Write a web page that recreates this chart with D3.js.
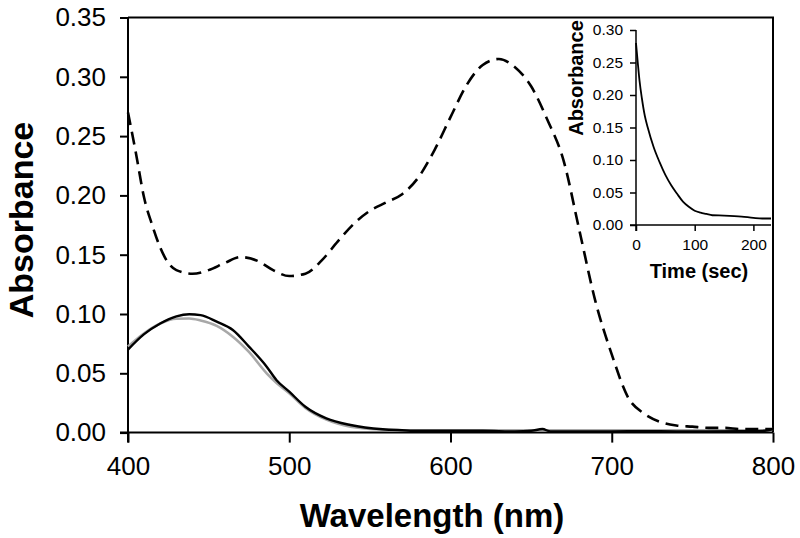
<!DOCTYPE html>
<html><head><meta charset="utf-8">
<script src="https://cdn.jsdelivr.net/npm/d3@7"></script>
<style>body{margin:0;background:#fff}svg{display:block}text{font-family:"Liberation Sans",Arial,sans-serif;fill:#000}</style>
</head><body>
<svg id="c" width="800" height="538"></svg>
<script>
// Main spectra
const wlDashed = [400,405,410,415,420,425,430,440,450,460,470,480,490,500,510,520,530,540,550,560,570,580,590,600,610,620,630,640,650,660,670,680,690,700,710,720,730,740,750,760,770,780,790,800];
const absDashed = [0.270,0.235,0.198,0.175,0.156,0.143,0.137,0.134,0.137,0.143,0.148,0.145,0.137,0.132,0.134,0.145,0.161,0.176,0.187,0.194,0.201,0.215,0.238,0.266,0.293,0.310,0.315,0.308,0.292,0.264,0.230,0.170,0.110,0.066,0.030,0.016,0.009,0.006,0.005,0.004,0.004,0.003,0.003,0.003];

const wlSolid = [400,410,420,430,438,445,455,465,475,486,492,500,510,523,538,558,570,580,600,620,640,650,657,662,680,700,720,740,760,780,795,800];
const absBlack = [0.070,0.083,0.092,0.098,0.0998,0.099,0.0935,0.0865,0.0725,0.0556,0.0444,0.0345,0.0218,0.012,0.0064,0.0028,0.002,0.0015,0.0015,0.0015,0.001,0.0015,0.003,0.001,0.001,0.001,0.0012,0.001,0.001,0.0012,0.0015,0.003];
const absGrey  = [0.0725,0.0837,0.092,0.096,0.0962,0.0945,0.090,0.0809,0.068,0.050,0.042,0.0332,0.0208,0.0109,0.005,0.0025,0.002,0.002,0.002,0.002,0.002,0.002,0.002,0.002,0.002,0.002,0.002,0.002,0.002,0.002,0.002,0.003];

const xTicks = [400,500,600,700,800];
const yTicks = [0,0.05,0.10,0.15,0.20,0.25,0.30,0.35];

// Inset kinetics
const tInset = [0,3,6,10,15,20,30,40,50,60,70,80,90,100,110,120,130,150,180,200,215,230];
const absInset = [0.280,0.250,0.222,0.195,0.168,0.150,0.120,0.097,0.077,0.061,0.048,0.036,0.028,0.022,0.019,0.017,0.015,0.0145,0.013,0.011,0.010,0.010];
const xTicksInset = [0,100,200];
const yTicksInset = [0,0.05,0.10,0.15,0.20,0.25,0.30];

const svg = d3.select("#c");
const X0=128, X1=773, Y0=432.6, Y1=17.5;
const x = d3.scaleLinear().domain([400,800]).range([X0,X1]);
const y = d3.scaleLinear().domain([0,0.35]).range([Y0,Y1]);

// frame top/right
svg.append("path").attr("d",`M${X0},${Y1}H${X1}V${Y0}`).attr("fill","none").attr("stroke","#000").attr("stroke-width",2);

const yAx = svg.append("g").attr("transform",`translate(${X0},0)`)
  .call(d3.axisLeft(y).tickValues(yTicks).tickFormat(d3.format(".2f")).tickSize(8).tickPadding(14));
const xAx = svg.append("g").attr("transform",`translate(0,${Y0})`)
  .call(d3.axisBottom(x).tickValues(xTicks).tickFormat(d3.format("d")).tickSize(10).tickPadding(14));
[yAx,xAx].forEach(g=>{
  g.select(".domain").remove();
  g.selectAll("line").attr("stroke","#000").attr("stroke-width",2);
  g.selectAll("text").attr("font-size",26).attr("font-family","Liberation Sans, Arial, sans-serif").attr("fill","#000");
});
svg.append("line").attr("x1",X0).attr("x2",X0).attr("y1",Y1).attr("y2",Y0+10).attr("stroke","#000").attr("stroke-width",2);
svg.append("line").attr("x1",X0-8).attr("x2",X1).attr("y1",Y0).attr("y2",Y0).attr("stroke","#000").attr("stroke-width",2);

const line = d3.line().curve(d3.curveMonotoneX);
const mk = (xs,ys)=>line(xs.map((v,i)=>[x(v),y(ys[i])]));

svg.append("path").attr("d",mk(wlSolid,absGrey)).attr("fill","none").attr("stroke","#a8a8a8").attr("stroke-width",2.6);
svg.append("path").attr("d",mk(wlSolid,absBlack)).attr("fill","none").attr("stroke","#000").attr("stroke-width",2.4);
svg.append("path").attr("d",mk(wlDashed,absDashed)).attr("fill","none").attr("stroke","#000").attr("stroke-width",2.6).attr("stroke-dasharray","13,7");

svg.append("text").attr("x",432).attr("y",527).attr("text-anchor","middle").attr("font-size",33).attr("font-weight","bold").text("Wavelength (nm)");
svg.append("text").attr("transform","translate(33,220) rotate(-90)").attr("text-anchor","middle").attr("font-size",34).attr("font-weight","bold").text("Absorbance");

// Inset
const ix = d3.scaleLinear().domain([0,230]).range([636,771]);
const iy = d3.scaleLinear().domain([0,0.30]).range([225,30]);
const iyAx = svg.append("g").attr("transform","translate(636,0)")
  .call(d3.axisLeft(iy).tickValues(yTicksInset).tickFormat(d3.format(".2f")).tickSize(6).tickPadding(7));
const ixAx = svg.append("g").attr("transform","translate(0,225)")
  .call(d3.axisBottom(ix).tickValues(xTicksInset).tickFormat(d3.format("d")).tickSize(6).tickPadding(8));
[iyAx,ixAx].forEach(g=>{
  g.select(".domain").remove();
  g.selectAll("line").attr("stroke","#000").attr("stroke-width",1.5);
  g.selectAll("text").attr("font-size",15.5).attr("font-family","Liberation Sans, Arial, sans-serif").attr("fill","#000");
});
svg.append("line").attr("x1",636).attr("x2",636).attr("y1",30).attr("y2",231).attr("stroke","#000").attr("stroke-width",1.5);
svg.append("line").attr("x1",630).attr("x2",771).attr("y1",225).attr("y2",225).attr("stroke","#000").attr("stroke-width",1.5);
const iline = d3.line().curve(d3.curveMonotoneX);
svg.append("path").attr("d",iline(tInset.map((t,i)=>[ix(t),iy(absInset[i])]))).attr("fill","none").attr("stroke","#000").attr("stroke-width",1.8);
svg.append("text").attr("x",699).attr("y",278).attr("text-anchor","middle").attr("font-size",20).attr("font-weight","bold").text("Time (sec)");
svg.append("text").attr("transform","translate(583,78) rotate(-90)").attr("text-anchor","middle").attr("font-size",20).attr("font-weight","bold").text("Absorbance");
</script>
</body></html>
